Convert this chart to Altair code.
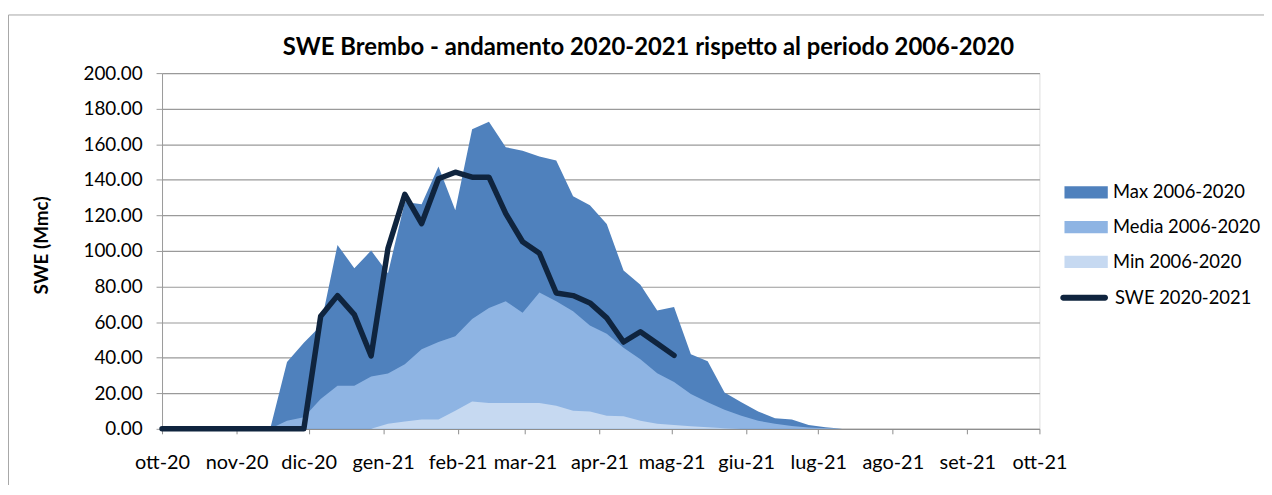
import altair as alt
import pandas as pd

# weekly dates (plus start of season)
dates = ["2020-10-01T00:00:00"] + [d.strftime("%Y-%m-%dT00:00:00") for d in pd.date_range("2020-10-04", periods=41, freq="7D")]

max_vals = [0, 0, 0, 0, 0, 0, 0, 0, 37.6, 48.4, 58.0, 103.4, 90.3, 100.2, 87.5, 127.5, 126.3, 147.5,
            122.9, 168.5, 172.6, 158.3, 156.4, 153.1, 150.8, 130.7, 125.7, 115.1, 89.0, 81.0, 66.6,
            68.5, 41.9, 38.0, 20.5, 14.9, 9.7, 6.0, 5.2, 2.2, 0.9, 0.0]
media_vals = [0, 0, 0, 0, 0, 0, 0, 0, 4.6, 6.5, 16.8, 24.2, 24.2, 29.4, 31.1, 36.3, 44.7, 48.8,
              52.1, 61.8, 68.0, 71.7, 65.2, 76.7, 71.7, 66.1, 58.1, 53.5, 45.6, 39.1, 31.3,
              26.4, 19.6, 14.9, 10.8, 7.4, 4.6, 2.8, 1.6, 0.8, 0.3, 0.0]
min_vals = [0, 0, 0, 0, 0, 0, 0, 0, 0, 0, 0, 0, 0, 0, 2.8, 4.1, 5.2, 5.2,
            10.2, 15.3, 14.5, 14.5, 14.5, 14.5, 13.0, 10.2, 9.7, 7.4, 7.1, 4.6, 2.8,
            2.2, 1.5, 0.9, 0.3, 0, 0, 0, 0, 0, 0, 0]
swe_vals = [0, 0, 0, 0, 0, 0, 0, 0, 0, 0, 63.3, 74.9, 64.2, 41.0, 101.5, 131.8, 115.4, 140.6,
            144.3, 141.5, 141.5, 121.0, 105.2, 98.7, 76.4, 74.9, 70.8, 62.4, 48.8, 54.6, 48.0, 41.3]

area_series = ["Max 2006-2020", "Media 2006-2020", "Min 2006-2020"]
area_colors = ["#4F81BD", "#8EB4E3", "#C6D9F1"]
line_series = "SWE 2020-2021"
line_color = "#0F243E"
month_labels = ["gen", "feb", "mar", "apr", "mag", "giu", "lug", "ago", "set", "ott", "nov", "dic"]

FONT = "Lato"

rows = []
for name, vals in zip(area_series, [max_vals, media_vals, min_vals]):
    for d, v in zip(dates, vals):
        rows.append({"date": d, "serie": name, "value": v})
df_area = pd.DataFrame(rows)
df_line = pd.DataFrame({"date": dates[:len(swe_vals)], "value": swe_vals, "serie": line_series})

tick_values = [alt.DateTime(year=2020 + (9 + k) // 12, month=(9 + k) % 12 + 1, date=1) for k in range(13)]

month_expr = "[" + ",".join(f"'{m}'" for m in month_labels) + "]"

x_enc = alt.X(
    "date:T",
    scale=alt.Scale(domain=[alt.DateTime(year=2020, month=10, date=1), alt.DateTime(year=2021, month=10, date=1)]),
    axis=alt.Axis(
        title=None, values=tick_values, grid=False,
        labelExpr=month_expr + "[month(datum.value)] + '-' + timeFormat(datum.value, '%y')",
        labelFont=FONT, labelFontSize=20, labelColor="#000000", labelPadding=19,
        labelFlush=False, labelAlign="center",
        tickSize=5, tickColor="#8c8c8c", domainColor="#8c8c8c", labelOverlap=False,
    ),
)
y_enc = alt.Y(
    "value:Q", stack=None,
    scale=alt.Scale(domain=[0, 200]),
    axis=alt.Axis(
        title="SWE (Mmc)", values=list(range(0, 201, 20)), format=".2f",
        labelFont=FONT, labelFontSize=19, labelColor="#000000", labelPadding=14,
        tickSize=6, tickColor="#9a9a9a", domainColor="#9a9a9a",
        gridColor="#9a9a9a", gridWidth=1.2,
        titleFont=FONT, titleFontSize=19, titleFontWeight="bold", titleColor="#000000",
        titleAngle=270, titleAlign="center", titleBaseline="alphabetic",
        titleX=-115, titleY=173,
    ),
)

rect_path = "M-1,-0.28L1,-0.28L1,0.28L-1,0.28Z"
capsule_path = "M-0.875,-0.125L0.875,-0.125A0.125,0.125 0 0 1 0.875,0.125L-0.875,0.125A0.125,0.125 0 0 1 -0.875,-0.125Z"

fill_scale = alt.Scale(domain=area_series, range=area_colors)
fill_legend = alt.Legend(
    title=None, orient="none", legendX=908, legendY=98,
    symbolType=rect_path, symbolSize=1900, symbolStrokeWidth=0, symbolOpacity=1,
    labelFont=FONT, labelFontSize=18.5, labelColor="#000000", labelOffset=5,
    rowPadding=3, padding=0, labelLimit=300,
)
stroke_legend = alt.Legend(
    title=None, orient="none", legendX=904, legendY=202,
    symbolType=capsule_path, symbolSize=2304, symbolStrokeWidth=0, symbolFillColor=line_color,
    symbolOpacity=1,
    labelFont=FONT, labelFontSize=18.5, labelColor="#000000", labelOffset=7,
    padding=0, labelLimit=300,
)

layers = []
for name in area_series:
    layers.append(
        alt.Chart(df_area).transform_filter(alt.datum.serie == name)
        .mark_area(interpolate="linear", opacity=1)
        .encode(x=x_enc, y=y_enc, fill=alt.Fill("serie:N", scale=fill_scale, legend=fill_legend))
    )

line = alt.Chart(df_line).mark_line(strokeWidth=5.5, strokeJoin="round", strokeCap="round").encode(
    x=x_enc, y=y_enc,
    stroke=alt.Stroke("serie:N", scale=alt.Scale(domain=[line_series], range=[line_color]), legend=stroke_legend),
)

frame = alt.Chart(pd.DataFrame({"f": [0]})).mark_rect(fill=None, stroke="#a6a6a6", strokeWidth=1).encode(
    x=alt.value(-154.5), x2=alt.value(1300), y=alt.value(-58.5), y2=alt.value(600)
)

chart = alt.layer(frame, *layers, line).resolve_scale(fill="shared").properties(
    width=883, height=358,
    autosize=alt.AutoSizeParams(type="none"),
    padding={"left": 155, "top": 64, "right": 226, "bottom": 55},
    title=alt.TitleParams(
        "SWE Brembo - andamento 2020-2021 rispetto al periodo 2006-2020",
        font=FONT, fontSize=24, fontWeight="bold", color="#000000",
        anchor="middle", frame="group", dx=48, offset=-46,
    ),
).configure_view(stroke=None).configure(background="#ffffff")

chart.save("out.html", embed_options={"renderer": "svg", "actions": False})
